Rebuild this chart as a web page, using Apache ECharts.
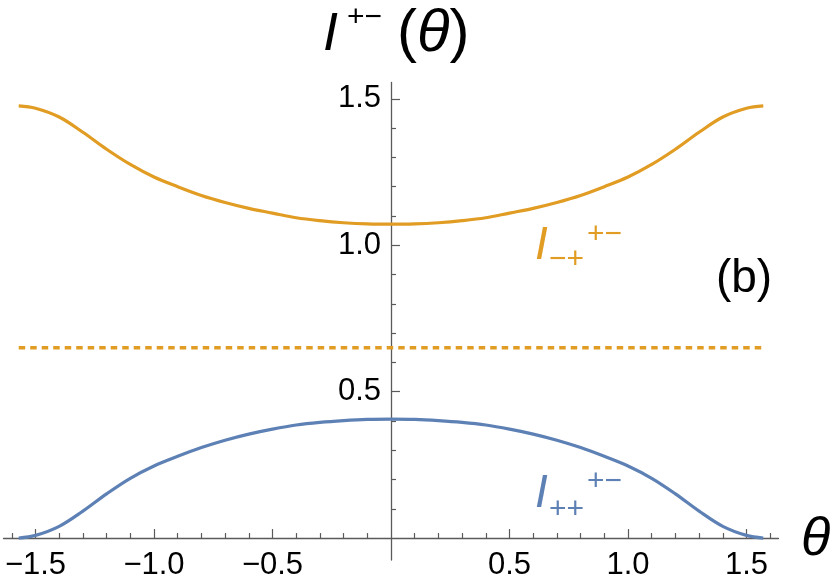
<!DOCTYPE html>
<html>
<head>
<meta charset="utf-8">
<script src="https://cdn.jsdelivr.net/npm/echarts@6/dist/echarts.min.js"></script>
<style>
html,body{margin:0;padding:0;background:#fff;}
#chart{width:830px;height:588px;}
</style>
</head>
<body>
<div id="chart"></div>
<script>
// ---- data ----
const theta = [-1.5708, -1.5, -1.4, -1.3, -1.2, -1.1, -1.0, -0.9, -0.8, -0.7, -0.6, -0.5, -0.4, -0.3, -0.2, -0.1, 0,
               0.1, 0.2, 0.3, 0.4, 0.5, 0.6, 0.7, 0.8, 0.9, 1.0, 1.1, 1.2, 1.3, 1.4, 1.5, 1.5708];
const iPlusPlus = [0.000, 0.009, 0.040, 0.092, 0.151, 0.204, 0.246, 0.279, 0.309, 0.334, 0.355, 0.372, 0.386, 0.395, 0.401, 0.405, 0.406,
                   0.405, 0.401, 0.395, 0.386, 0.372, 0.355, 0.334, 0.309, 0.279, 0.246, 0.204, 0.151, 0.092, 0.040, 0.009, 0.000];
const iMinusPlus = [1.476, 1.468, 1.438, 1.386, 1.328, 1.276, 1.233, 1.200, 1.170, 1.146, 1.126, 1.110, 1.094, 1.084, 1.077, 1.073, 1.072,
                    1.073, 1.077, 1.084, 1.094, 1.110, 1.126, 1.146, 1.170, 1.200, 1.233, 1.276, 1.328, 1.386, 1.438, 1.468, 1.476];
const dashTheta = [-1.5708, 1.5708];
const dashValue = [0.65, 0.65];

const xMajorTicks = [-1.5, -1.0, -0.5, 0.5, 1.0, 1.5];
const xMinorTicks = [-1.6, -1.4, -1.3, -1.2, -1.1, -0.9, -0.8, -0.7, -0.6, -0.4, -0.3, -0.2, -0.1,
                     0.1, 0.2, 0.3, 0.4, 0.6, 0.7, 0.8, 0.9, 1.1, 1.2, 1.3, 1.4, 1.6];
const yMajorTicks = [0.5, 1.0, 1.5];
const yMinorTicks = [0.1, 0.2, 0.3, 0.4, 0.6, 0.7, 0.8, 0.9, 1.1, 1.2, 1.3, 1.4];

const xMin = -1.635, xMax = 1.635, yMin = -0.075, yMax = 1.556;

// ---- styles ----
const BLUE = '#5E81B5', ORANGE = '#E19C24', AXIS = '#5a5a5a';
const FONT = '"Liberation Sans", Arial, Helvetica, sans-serif';
const gridLeft = 3.5, gridTop = 82.5, gridW = 775, gridH = 477.5;
const xZeroOffset = -(gridW * (0 - xMin) / (xMax - xMin));       // y axis placed at x = 0
const yZeroOffset = -(gridH * (0 - yMin) / (yMax - yMin));       // x axis placed at y = 0

const fmt = v => (v < 0 ? '\u2212' : '') + Math.abs(v).toFixed(1);

const chart = echarts.init(document.getElementById('chart'), null, {renderer: 'canvas'});

function pair(xs, ys) { return xs.map((x, i) => [x, ys[i]]); }

function txt(text, x, y, size, color, italic, align) {
  return {
    type: 'text', x: x, y: y, silent: true,
    style: {
      text: text, fill: color,
      font: (italic ? 'italic ' : '') + size + 'px ' + FONT,
      align: align || 'left', textAlign: align || 'left',
      verticalAlign: 'middle', textVerticalAlign: 'middle'
    }
  };
}

const option = {
  animation: false,
  backgroundColor: '#fff',
  grid: {left: gridLeft, top: gridTop, width: gridW, height: gridH, containLabel: false},
  xAxis: [
    {
      type: 'value', min: xMin, max: xMax, position: 'bottom', offset: yZeroOffset,
      axisLine: {show: true, onZero: false, lineStyle: {color: AXIS, width: 1.3}},
      axisTick: {show: true, inside: true, length: 9, customValues: xMajorTicks, lineStyle: {color: AXIS, width: 1.2}},
      axisLabel: {show: true, customValues: xMajorTicks, formatter: fmt, margin: 12,
                  color: '#000', fontSize: 31, fontFamily: FONT},
      splitLine: {show: false}
    },
    {
      type: 'value', min: xMin, max: xMax, position: 'bottom', offset: yZeroOffset,
      axisLine: {show: false, onZero: false},
      axisTick: {show: true, inside: true, length: 5, customValues: xMinorTicks, lineStyle: {color: AXIS, width: 1.2}},
      axisLabel: {show: false, customValues: xMinorTicks},
      splitLine: {show: false}
    }
  ],
  yAxis: [
    {
      type: 'value', min: yMin, max: yMax, position: 'left', offset: xZeroOffset,
      axisLine: {show: true, onZero: false, lineStyle: {color: AXIS, width: 1.3}},
      axisTick: {show: true, inside: true, length: 9, customValues: yMajorTicks, lineStyle: {color: AXIS, width: 1.2}},
      axisLabel: {show: true, customValues: yMajorTicks, formatter: fmt, margin: 10,
                  color: '#000', fontSize: 31, fontFamily: FONT},
      splitLine: {show: false}
    },
    {
      type: 'value', min: yMin, max: yMax, position: 'left', offset: xZeroOffset,
      axisLine: {show: false, onZero: false},
      axisTick: {show: true, inside: true, length: 5, customValues: yMinorTicks, lineStyle: {color: AXIS, width: 1.2}},
      axisLabel: {show: false, customValues: yMinorTicks},
      splitLine: {show: false}
    }
  ],
  series: [
    {
      name: 'I++', type: 'line', xAxisIndex: 0, yAxisIndex: 0,
      data: pair(theta, iPlusPlus), smooth: 0.35,
      showSymbol: false, lineStyle: {color: BLUE, width: 3.2}, itemStyle: {color: BLUE}, z: 3
    },
    {
      name: 'I-+', type: 'line', xAxisIndex: 0, yAxisIndex: 0,
      data: pair(theta, iMinusPlus), smooth: 0.35,
      showSymbol: false, lineStyle: {color: ORANGE, width: 3.2}, itemStyle: {color: ORANGE}, z: 3
    },
    {
      name: 'dashed', type: 'line', xAxisIndex: 0, yAxisIndex: 0,
      data: pair(dashTheta, dashValue),
      showSymbol: false, lineStyle: {color: ORANGE, width: 3.6, type: [6.5, 5]}, itemStyle: {color: ORANGE}, z: 3
    }
  ],
  graphic: [
    // title I^{+-}(θ)
    txt('I', 323, 35, 54, '#000', true),
    txt('+\u2212', 347, 18, 30, '#000', false),
    {
      type: 'text', x: 397, y: 34, silent: true,
      style: {
        text: '{p|(}{t|θ}{p|)}',
        align: 'left', textAlign: 'left', verticalAlign: 'middle', textVerticalAlign: 'middle',
        rich: {
          p: {font: '60px ' + FONT, fill: '#000'},
          t: {font: 'italic 60px ' + FONT, fill: '#000'}
        }
      }
    },
    // (b)
    txt('(b)', 744, 279, 46, '#000', false, 'center'),
    // axis name θ
    txt('θ', 801, 540, 54, '#000', true),
    // orange label I_{-+}^{+-}
    txt('I', 535, 246, 46, ORANGE, true),
    txt('\u2212+', 549, 259.5, 30, ORANGE, false),
    txt('+\u2212', 587, 234.5, 30, ORANGE, false),
    // blue label I_{++}^{+-}
    txt('I', 535, 494, 46, BLUE, true),
    txt('++', 549, 510, 30, BLUE, false),
    txt('+\u2212', 587, 481.5, 30, BLUE, false)
  ]
};

chart.setOption(option);
</script>
</body>
</html>
